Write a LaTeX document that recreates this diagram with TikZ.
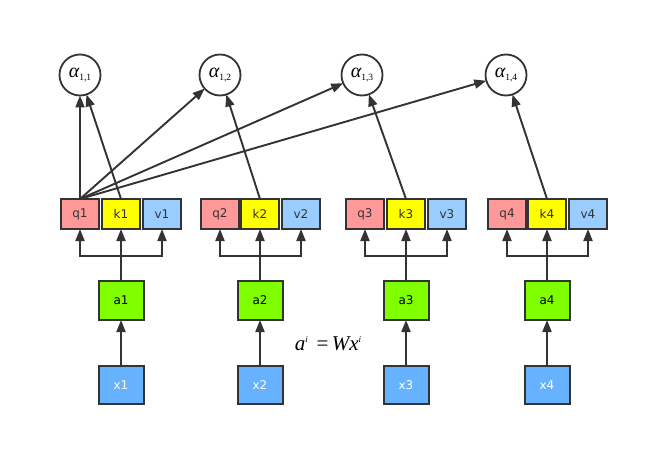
\documentclass[tikz,border=0pt]{standalone}
\usepackage{fontspec}
\setmainfont{DejaVu Sans}
\newfontfamily\tms{Liberation Serif}
\usetikzlibrary{arrows.meta}
\definecolor{lc}{HTML}{333333}
\definecolor{qc}{HTML}{FF9999}
\definecolor{kc}{HTML}{FFFF00}
\definecolor{vc}{HTML}{99CCFF}
\definecolor{ac}{HTML}{80FF00}
\definecolor{xc}{HTML}{66B2FF}
\begin{document}
\begin{tikzpicture}[x=1pt,y=-1pt,
  every node/.style={inner sep=0pt,outer sep=0pt},
  small/.style={draw=lc,line width=2pt,minimum width=38pt,minimum height=30pt,font=\fontsize{12}{14}\selectfont,text=lc},
  qbox/.style={small,fill=qc},
  kbox/.style={small,fill=kc},
  vbox/.style={small,fill=vc},
  abox/.style={draw=lc,line width=2pt,minimum width=45pt,minimum height=39pt,fill=ac,font=\fontsize{12}{14}\selectfont,text=black},
  xbox/.style={draw=lc,line width=2pt,minimum width=45pt,minimum height=38pt,fill=xc,font=\fontsize{12}{14}\selectfont,text=white},
  anode/.style={draw=lc,line width=1.8pt,circle,minimum size=41pt,fill=white},
  arr/.style={draw=lc,line width=1.9pt,-{Triangle[length=12pt,width=9pt]}},
  ln/.style={draw=lc,line width=1.9pt}]
\useasboundingbox (0,0) rectangle (669,465);
% alpha nodes
\foreach \i/\x in {1/80,2/220,3/362,4/506}{
  \node[anode] (al\i) at (\x,75) {\tms\fontsize{20}{20}\selectfont\itshape α\raisebox{-3pt}{\upshape\fontsize{9.5}{9.5}\selectfont 1,\i}};
}
% groups
\foreach \i/\q/\k/\v in {1/80/121/162,2/220/260/301,3/365/406/447,4/507/547/588}{
  \node[qbox] (q\i) at (\q,214) {q\i};
  \node[kbox] (k\i) at (\k,214) {k\i};
  \node[vbox] (v\i) at (\v,214) {v\i};
  \node[abox] (a\i) at (\k,300.5) {a\i};
  \node[xbox] (x\i) at (\k,385) {x\i};
  \coordinate (j\i) at (\k,256);
  \draw[arr] (x\i) -- (a\i);
  \draw[ln] (a\i.north) -- (j\i);
  \draw[arr] (j\i) -- (k\i.south);
  \draw[arr] (j\i) -| (q\i.south);
  \draw[arr] (j\i) -| (v\i.south);
  \draw[arr] (k\i.north) -- (al\i);
}
\foreach \i in {1,2,3,4}{
  \draw[arr] (q1.north) -- (al\i);
}
\node (eq) at (328,344) {\tms\fontsize{21}{21}\selectfont\itshape a\raisebox{8pt}{\fontsize{9}{9}\selectfont i}\, \upshape=\,\itshape Wx\raisebox{8pt}{\fontsize{9}{9}\selectfont i}};
\end{tikzpicture}
\end{document}
